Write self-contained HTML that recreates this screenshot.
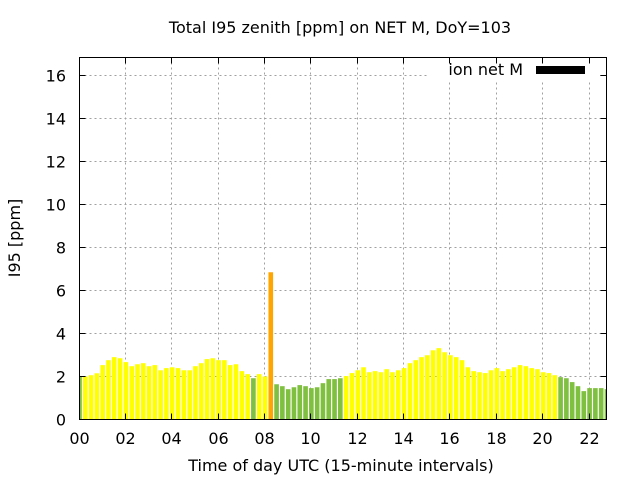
<!DOCTYPE html>
<html><head><meta charset="utf-8"><style>
body{margin:0;background:#fff}
svg{display:block;font-family:"DejaVu Sans","Liberation Sans",sans-serif}
</style></head><body>
<svg id="chart" width="640" height="480">
<text x="340" y="33" text-anchor="middle" font-size="16">Total I95 zenith [ppm] on NET M, DoY=103</text>
<text x="20" y="238" text-anchor="middle" font-size="16" transform="rotate(-90 20 238)">I95 [ppm]</text>
<text x="341" y="471" text-anchor="middle" font-size="16">Time of day UTC (15-minute intervals)</text>
<g id="grid"></g>
<g id="bars"></g>
<rect x="428" y="58" width="172" height="22" fill="#fff"/>
<text x="523" y="75" text-anchor="end" font-size="16">ion net M</text>
<rect x="536" y="66" width="49" height="8" fill="#000"/>
<rect x="79.5" y="57.5" width="527" height="362" fill="none" stroke="#000"/>
<g id="ticks"></g>
</svg>
<script>
const values = [1.98,2.0,2.06,2.15,2.53,2.76,2.9,2.85,2.67,2.48,2.57,2.62,2.48,2.53,2.29,2.39,2.43,2.39,2.29,2.29,2.48,2.62,2.81,2.85,2.76,2.76,2.53,2.57,2.25,2.11,1.92,2.11,2.0,6.85,1.64,1.55,1.41,1.5,1.6,1.55,1.46,1.5,1.69,1.88,1.88,1.92,2.02,2.16,2.29,2.43,2.2,2.25,2.2,2.34,2.2,2.29,2.39,2.62,2.76,2.9,2.99,3.22,3.32,3.13,2.99,2.9,2.76,2.43,2.25,2.2,2.16,2.29,2.39,2.25,2.34,2.43,2.53,2.48,2.39,2.34,2.2,2.16,2.06,1.97,1.92,1.74,1.55,1.32,1.46,1.46,1.46,1.41];
const yTicks = [0,2,4,6,8,10,12,14,16];
const xTickLabels = ["00","02","04","06","08","10","12","14","16","18","20","22"];
const xTickHours = [0,2,4,6,8,10,12,14,16,18,20,22];
const NS='http://www.w3.org/2000/svg';
const X0=79.5,X1=606.5,Y0=419.5,Y1=57.5,YMAX=16.84,HMAX=22.73;
const xs=h=>X0+(h/HMAX)*(X1-X0);
const ys=v=>Y0-(v/YMAX)*(Y0-Y1);
const grid=document.getElementById('grid'),bars=document.getElementById('bars'),ticks=document.getElementById('ticks');
function mk(tag,attrs,parent){const e=document.createElementNS(NS,tag);for(const k in attrs)e.setAttribute(k,attrs[k]);parent.appendChild(e);return e;}
yTicks.forEach(v=>{
  const y=Math.round(ys(v))-0.5;
  if(v>0){const g=mk('line',{x1:X0,x2:X1,y1:y,y2:y,stroke:'#a0a0a0','stroke-dasharray':'2,3'},grid);
  
  }
  mk('line',{x1:X0,x2:X0+6,y1:y,y2:y,stroke:'#000'},ticks);
  mk('line',{x1:X1,x2:X1-6,y1:y,y2:y,stroke:'#000'},ticks);
  const t=mk('text',{x:66,y:y+6,'text-anchor':'end','font-size':'16'},ticks);t.textContent=v;
  
  
});
xTickHours.forEach((h,i)=>{
  const x=Math.round(xs(h))-0.5;
  if(h>0){const g=mk('line',{x1:x,x2:x,y1:Y0,y2:Y1,stroke:'#a0a0a0','stroke-dasharray':'2,3'},grid);
  
  }
  mk('line',{x1:x,x2:x,y1:Y0,y2:Y0-6,stroke:'#000'},ticks);
  mk('line',{x1:x,x2:x,y1:Y1,y2:Y1+6,stroke:'#000'},ticks);
  const t=mk('text',{x:x,y:444,'text-anchor':'middle','font-size':'16'},ticks);t.textContent=xTickLabels[i];
  
  
});
const bw=0.8*0.25*(X1-X0)/HMAX;
values.forEach((v,k)=>{
  const cx=xs(k*0.25);
  let l=Math.max(cx-bw/2,X0),r=Math.min(cx+bw/2,X1);
  const col=v>5?'#ffa500':(v<2?'#80c040':'#ffff00');
  const b=mk('rect',{x:l,y:ys(v),width:r-l,height:Y0-ys(v),fill:col},bars);
  
  
});
</script>
</body></html>
